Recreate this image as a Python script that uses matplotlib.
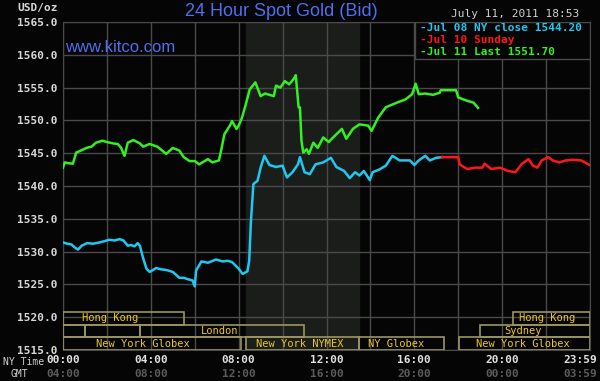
import matplotlib
matplotlib.use("Agg")
import matplotlib.pyplot as plt
from matplotlib.patches import Rectangle

# hours since 00:00 NY time, price in USD/oz
jul08_hours = [0.0, 0.2, 0.38, 0.55, 0.68, 0.85, 1.1, 1.36, 1.67, 1.9, 2.1, 2.35, 2.58, 2.75,
               2.95, 3.1, 3.26, 3.4, 3.5, 3.65, 3.8, 3.95, 4.24, 4.45, 4.7, 5.0, 5.3, 5.5,
               5.68, 5.9, 6.0, 6.06, 6.3, 6.6, 6.97, 7.27, 7.5, 7.7, 8.0, 8.18, 8.4, 8.48,
               8.56, 8.67, 8.86, 9.0, 9.17, 9.4, 9.7, 10.0, 10.2, 10.45, 10.7, 10.79, 11.0,
               11.24, 11.5, 11.85, 12.2, 12.45, 12.8, 13.06, 13.3, 13.5, 13.7, 13.97, 14.1,
               14.4, 14.7, 15.0, 15.33, 15.8, 16.0, 16.2, 16.5, 16.7, 17.0, 17.26]
jul08_price = [1531.4, 1531.2, 1531.1, 1530.6, 1530.3, 1530.9, 1531.3, 1531.2, 1531.4, 1531.6,
               1531.8, 1531.7, 1531.9, 1531.7, 1530.9, 1531.0, 1530.8, 1531.3, 1530.9, 1529.0,
               1527.4, 1526.9, 1527.5, 1527.3, 1527.2, 1526.9, 1526.0, 1526.0, 1525.8, 1525.6,
               1524.7, 1527.1, 1528.5, 1528.3, 1528.8, 1528.5, 1528.6, 1528.4, 1527.4, 1526.6,
               1527.0, 1528.6, 1534.7, 1540.3, 1540.8, 1542.8, 1544.6, 1543.2, 1542.9, 1543.1,
               1541.3, 1542.1, 1543.3, 1544.4, 1542.1, 1541.8, 1543.3, 1543.6, 1544.3, 1542.9,
               1542.3, 1541.2, 1542.1, 1541.6, 1542.3, 1540.9, 1542.1, 1542.5, 1543.1, 1544.6,
               1543.9, 1543.9, 1543.2, 1543.9, 1544.6, 1543.9, 1544.3, 1544.4]

jul10_hours = [17.26, 18.0, 18.06, 18.4, 18.8, 19.1, 19.2, 19.5, 19.9, 20.26, 20.6, 20.9,
               21.2, 21.4, 21.6, 21.8, 22.1, 22.3, 22.6, 22.9, 23.2, 23.6, 23.98]
jul10_price = [1544.4, 1544.4, 1543.3, 1542.6, 1542.8, 1542.8, 1543.4, 1542.6, 1542.8,
               1542.3, 1542.1, 1543.4, 1544.1, 1543.1, 1542.8, 1543.9, 1544.4, 1543.9,
               1543.6, 1543.9, 1544.0, 1543.9, 1543.2]

jul11_hours = [0.0, 0.08, 0.2, 0.45, 0.6, 0.75, 1.06, 1.3, 1.5, 1.8, 2.0, 2.27, 2.5, 2.65,
               2.8, 2.95, 3.2, 3.5, 3.65, 3.94, 4.3, 4.7, 5.0, 5.3, 5.5, 5.76, 6.0, 6.2,
               6.6, 6.8, 7.1, 7.2, 7.35, 7.6, 7.7, 7.9, 8.0, 8.15, 8.33, 8.5, 8.76, 9.0,
               9.2, 9.6, 9.7, 9.9, 10.1, 10.3, 10.5, 10.6, 10.73, 10.79, 10.86, 10.94, 11.1,
               11.2, 11.4, 11.6, 11.85, 12.1, 12.3, 12.7, 12.9, 13.2, 13.5, 13.9, 14.05,
               14.35, 14.7, 15.2, 15.6, 15.9, 16.06, 16.2, 16.5, 16.85, 17.15, 17.2, 17.9,
               18.0, 18.4, 18.7, 18.9]
jul11_price = [1542.8, 1543.6, 1543.5, 1543.4, 1545.1, 1545.3, 1545.8, 1546.0, 1546.6, 1546.9,
               1546.7, 1546.5, 1546.4, 1545.8, 1544.6, 1546.6, 1547.0, 1546.5, 1546.0, 1546.4,
               1546.0, 1544.9, 1545.8, 1545.4, 1544.4, 1543.8, 1543.8, 1543.3, 1544.1, 1543.6,
               1543.9, 1545.4, 1547.9, 1549.2, 1549.9, 1548.7, 1549.2, 1550.4, 1552.5, 1554.7,
               1555.8, 1553.7, 1554.1, 1553.7, 1555.3, 1555.0, 1556.0, 1555.5, 1556.3, 1556.9,
               1552.0, 1552.0, 1546.9, 1545.1, 1545.6, 1544.9, 1546.6, 1545.8, 1547.4, 1546.7,
               1547.4, 1548.7, 1547.2, 1548.7, 1549.4, 1549.2, 1548.4, 1550.4, 1552.0, 1552.7,
               1553.2, 1554.0, 1555.6, 1554.0, 1554.1, 1553.9, 1554.2, 1554.6, 1554.6, 1553.5,
               1553.0, 1552.7, 1551.9]

# trading sessions: row, start hour, end hour, label and where the label sits
session_rows = [2, 2, 1, 1, 1, 1, 0, 0, 0, 0]
session_start = [0.0, 20.5, 0.0, 1.0, 3.5, 19.0, 0.0, 8.33, 13.5, 18.03]
session_end = [5.5, 24.0, 1.0, 3.5, 10.97, 24.0, 8.1, 13.5, 17.35, 24.0]
session_names = ["Hong Kong", "Hong Kong", "", "", "London", "Sydney",
                 "New York Globex", "New York NYMEX", "NY Globex", "New York Globex"]
session_label_x = [2.14, 22.04, 0, 0, 7.15, 20.95, 3.64, 10.8, 15.16, 20.95]

ny_labels = ["00:00", "04:00", "08:00", "12:00", "16:00", "20:00", "23:59"]
gmt_labels = ["04:00", "08:00", "12:00", "16:00", "20:00", "00:00", "03:59"]
label_hours = [0, 4, 8, 12, 16, 20, 23.55]

bg = "#050505"
grid_col = "#4a4a4a"
mono = "DejaVu Sans Mono"

fig = plt.figure(figsize=(6, 3.81), dpi=100, facecolor=bg)
ax = fig.add_axes([63 / 600, 1 - 350 / 381, 527 / 600, 328 / 381], facecolor=bg)

ax.set_xlim(0, 24)
ax.set_ylim(1515, 1565)
ax.axvspan(8.33, 13.5, color="#1b1d1b", zorder=0)

ax.set_xticks(range(0, 25, 2))
ax.set_xticklabels([])
ax.set_yticks(range(1515, 1566, 5))
ax.set_yticklabels(["%.1f" % v for v in range(1515, 1566, 5)])
ax.tick_params(length=0, colors="#d8d8d8", labelsize=8, pad=4)
for t in ax.get_yticklabels():
    t.set_fontfamily(mono)
    t.set_fontweight("bold")
ax.grid(True, color=grid_col, linewidth=1)
ax.set_axisbelow(True)
for s in ax.spines.values():
    s.set_color(grid_col)

ax.plot(jul08_hours, jul08_price, color="#1ec8f0", linewidth=1.8, zorder=3)
ax.plot(jul10_hours, jul10_price, color="#ff1616", linewidth=1.8, zorder=3)
ax.plot(jul11_hours, jul11_price, color="#33f020", linewidth=1.8, zorder=3)

# session boxes along the bottom
row_h = 1.93
for r, a, b, name, lx in zip(session_rows, session_start, session_end,
                             session_names, session_label_x):
    y0 = 1515 + r * row_h
    ax.add_patch(Rectangle((a, y0), b - a, row_h, fill=False,
                           edgecolor="#9c9660", linewidth=1.2, zorder=4))
    if name:
        ax.text(lx, y0 + row_h / 2, name, color="#ecc81c", fontsize=7.5,
                family=mono, ha="center", va="center", zorder=5)

# legend box
ax.add_patch(Rectangle((0.668, 0.887), 0.332, 0.113, transform=ax.transAxes,
                       facecolor=bg, edgecolor=grid_col, linewidth=1, zorder=6))
legend_texts = ["-Jul 08 NY close 1544.20", "-Jul 10 Sunday", "-Jul 11 Last 1551.70"]
legend_cols = ["#1ec8f0", "#ff1616", "#33f020"]
for i, (txt, c) in enumerate(zip(legend_texts, legend_cols)):
    ax.text(0.678, 0.982 - i * 0.036, txt, transform=ax.transAxes, color=c,
            fontsize=8, family=mono, fontweight="bold", ha="left", va="center", zorder=7)

# x labels, two rows
xt = ax.get_xaxis_transform()
for h, ny, gmt in zip(label_hours, ny_labels, gmt_labels):
    ax.text(h, -0.03, ny, transform=xt, color="#e0e0e0", fontsize=8, family=mono,
            fontweight="bold", ha="center", va="center", clip_on=False)
    ax.text(h, -0.073, gmt, transform=xt, color="#5c5c5c", fontsize=8, family=mono,
            fontweight="bold", ha="center", va="center", clip_on=False)
fig.text(44 / 600, 1 - 362 / 381, "NY Time", color="#d0d0d0", fontsize=7, family=mono,
         ha="right", va="center")
fig.text(19 / 600, 1 - 374 / 381, "GMT", color="#d0d0d0", fontsize=7, family=mono,
         ha="center", va="center")

fig.text(58 / 600, 1 - 8 / 381, "USD/oz", color="#d8d8d8", fontsize=8, family=mono,
         fontweight="bold", ha="right", va="center")
fig.text(281 / 600, 1 - 11 / 381, "24 Hour Spot Gold (Bid)", color="#4d6ff0",
         fontsize=13, family="Liberation Sans", ha="center", va="center")
fig.text(65 / 600, 1 - 47 / 381, "www.kitco.com", color="#4d6ff0", fontsize=12,
         family="Liberation Sans", ha="left", va="center")
fig.text(579 / 600, 1 - 14 / 381, "July 11, 2011 18:53", color="#d0d0d0", fontsize=8,
         family=mono, ha="right", va="center")

fig.savefig("out.png", dpi=100, facecolor=bg)
